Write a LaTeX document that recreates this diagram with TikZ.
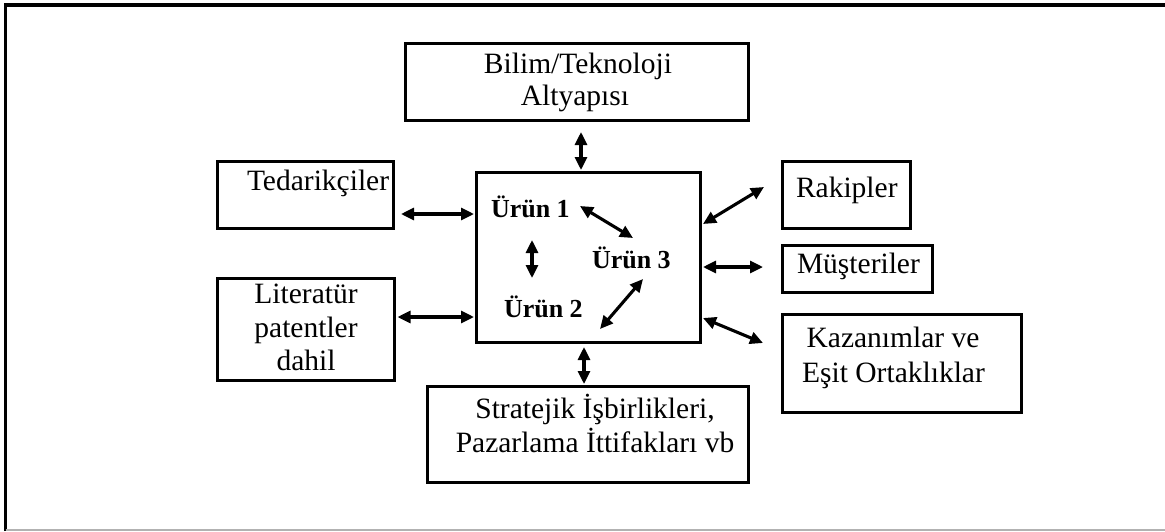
\documentclass[tikz,border=0pt]{standalone}
\usepackage{fontspec}
\setmainfont{Liberation Serif}
\usetikzlibrary{arrows.meta,calc}

\begin{document}
\begin{tikzpicture}[x=1pt,y=1pt,
  box/.style={draw=black, line width=3.8pt, inner sep=0pt, outer sep=0pt,
              anchor=north west, rectangle},
  txt/.style={inner sep=0pt, outer sep=0pt, font=\fontsize{29.5}{33}\selectfont},
  prodtxt/.style={inner sep=0pt, outer sep=0pt, anchor=base west,
                  font=\bfseries\fontsize{26}{30}\selectfont},
  dbl/.style={line width=3.1pt,
              {Triangle[length=13pt,width=12pt]}-{Triangle[length=13pt,width=12pt]}}
]
\useasboundingbox (0,0) rectangle (1165,-531);

% frame
\draw[line width=3.8pt, line join=miter] (5.5,-531) -- (5.5,-5) -- (1165,-5);
\draw[black!30, line width=1.2pt] (5.5,-530) -- (1165,-530);

% boxes
\node[box, minimum width=343pt, minimum height=77pt]  (bilim)   at (405.5,-43.5) {};
\node[box, minimum width=176pt, minimum height=67pt]  (tedarik) at (217.5,-161.5) {};
\node[box, minimum width=177pt, minimum height=102pt] (lit)     at (217.5,-278.5) {};
\node[box, minimum width=224pt, minimum height=170pt] (prod)    at (476.5,-172.5) {};
\node[box, minimum width=321pt, minimum height=96pt]  (strat)   at (427.5,-386.5) {};
\node[box, minimum width=128pt, minimum height=67pt]  (rakip)   at (782.5,-161.5) {};
\node[box, minimum width=150pt, minimum height=47pt]  (must)    at (782.5,-245.5) {};
\node[box, minimum width=239pt, minimum height=98pt]  (kazan)   at (782.5,-314.5) {};

% box texts
\node[txt, anchor=base] (bilimA) at (578,-73)  {Bilim/Teknoloji};
\node[txt, anchor=base] (bilimB) at (575,-105) {Altyapısı};
\node[txt, anchor=base west] (tedT) at (247,-190) {Tedarikçiler};
\node[txt, anchor=base] (litA) at (306,-303) {Literatür};
\node[txt, anchor=base] (litB) at (306,-337) {patentler};
\node[txt, anchor=base] (litC) at (306,-370) {dahil};
\node[txt, anchor=base] (stratA) at (595,-418) {Stratejik İşbirlikleri,};
\node[txt, anchor=base] (stratB) at (595,-452) {Pazarlama İttifakları vb};
\node[txt, anchor=base west] (rakT) at (796,-197) {Rakipler};
\node[txt, anchor=base west] (musT) at (797,-273) {Müşteriler};
\node[txt, anchor=base] (kazA) at (893,-347) {Kazanımlar ve};
\node[txt, anchor=base] (kazB) at (893.5,-382) {Eşit Ortaklıklar};

% products
\node[prodtxt] (u1) at (491,-217) {Ürün 1};
\node[prodtxt] (u2) at (504,-317) {Ürün 2};
\node[prodtxt] (u3) at (592,-268) {Ürün 3};

% connectors around the central box
\draw[dbl] ($(bilim.south)+(4,-11.5)$) -- ($(prod.north)+(-7.5,2.5)$);
\draw[dbl] ($(prod.south)+(-4.5,-4.5)$) -- ($(strat.north)+(-4,2.5)$);
\draw[dbl] ($(tedarik.east)+(7.5,-19)$) -- ($(prod.west)+(-2.5,43.5)$);
\draw[dbl] ($(lit.east)+(3,12.5)$) -- ($(prod.west)+(-2.5,-59.5)$);
\draw[dbl] ($(prod.east)+(2.5,33.5)$) -- ($(rakip.west)+(-18.5,8)$);
\draw[dbl] ($(prod.east)+(2.5,-9.5)$) -- ($(must.west)+(-19.5,2)$);
\draw[dbl] ($(prod.east)+(2.5,-60.5)$) -- ($(kazan.west)+(-19.5,20.5)$);

% connectors between products
\draw[dbl] ($(u1.base west)+(41,-23)$) -- ($(u2.base west)+(28,39)$);
\draw[dbl] ($(u1.base west)+(89,11)$) -- ($(u3.base west)+(41,30)$);
\draw[dbl] ($(u2.base west)+(96,-12)$) -- ($(u3.base west)+(51,-11)$);
\end{tikzpicture}
\end{document}
